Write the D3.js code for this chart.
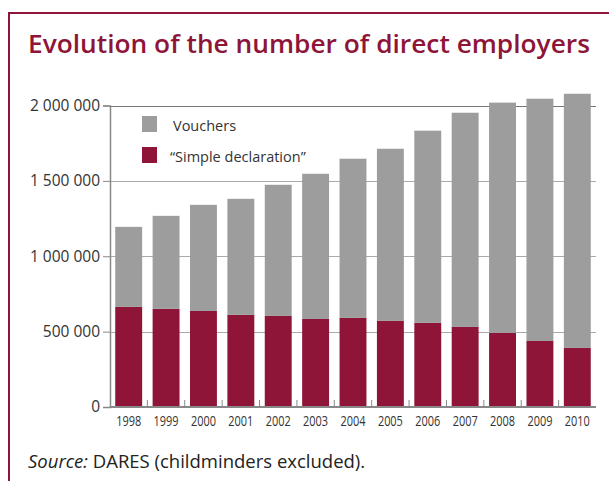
<!DOCTYPE html>
<html>
<head>
<meta charset="utf-8">
<script src="https://cdn.jsdelivr.net/npm/d3@7"></script>
<style>
  body { margin: 0; background: #fff; }
  svg text { font-family: "Open Sans", "Noto Sans", sans-serif; }
</style>
</head>
<body>
<script>
const years = ["1998","1999","2000","2001","2002","2003","2004","2005","2006","2007","2008","2009","2010"];
const simple = [664000, 651000, 637000, 611000, 604000, 584000, 591000, 571000, 558000, 531000, 491000, 438000, 392000];
const vouchers = [531000, 617000, 704000, 770000, 870000, 963000, 1056000, 1142000, 1275000, 1421000, 1528000, 1607000, 1686000];
const yTicks = [0, 500000, 1000000, 1500000, 2000000];
const seriesNames = ["Vouchers", "\u201cSimple declaration\u201d"];

const width = 609, height = 481;
const red = "#8e1538", grey = "#9c9d9c";
const margin = { top: 105, right: 13, bottom: 74, left: 110 };

const svg = d3.select("body").append("svg")
  .attr("width", width)
  .attr("height", height);

// frame
svg.append("line").attr("x1", 9).attr("x2", width).attr("y1", 13).attr("y2", 13)
  .attr("stroke", red).attr("stroke-width", 2);
svg.append("line").attr("x1", 9).attr("x2", 9).attr("y1", 12).attr("y2", height)
  .attr("stroke", red).attr("stroke-width", 2);

svg.append("text")
  .attr("x", 28).attr("y", 53)
  .attr("fill", red)
  .attr("font-size", 25)
  .attr("font-weight", 600)
  .attr("textLength", 562)
  .attr("lengthAdjust", "spacingAndGlyphs")
  .text("Evolution of the number of direct employers");

const x = d3.scaleBand()
  .domain(years)
  .range([margin.left, width - margin.right])
  .paddingInner(0.28)
  .paddingOuter(0.14);

const y = d3.scaleLinear()
  .domain([0, 2000000])
  .range([height - margin.bottom, margin.top + 0.5]);

// gridlines
svg.append("g").selectAll("line")
  .data(yTicks.slice(1))
  .join("line")
  .attr("x1", margin.left).attr("x2", width - margin.right)
  .attr("y1", d => Math.round(y(d)) + 0.5).attr("y2", d => Math.round(y(d)) + 0.5)
  .attr("stroke", (d, i) => i === 3 ? "#777" : "#aaa")
  .attr("stroke-width", 1.2);

const data = years.map((yr, i) => ({ year: yr, simple: simple[i], vouchers: vouchers[i] }));
const stacked = d3.stack().keys(["simple", "vouchers"])(data);
const colors = { simple: red, vouchers: grey };

svg.append("g").selectAll("g")
  .data(stacked)
  .join("g")
  .attr("fill", d => colors[d.key])
  .selectAll("rect")
  .data(d => d)
  .join("rect")
  .attr("x", d => x(d.data.year))
  .attr("width", x.bandwidth())
  .attr("y", d => y(d[1]))
  .attr("height", d => y(d[0]) - y(d[1]));

// y axis
const yAxis = svg.append("g")
  .attr("transform", `translate(${margin.left},0)`)
  .call(d3.axisLeft(y).tickValues(yTicks).tickSize(7).tickPadding(3)
    .tickFormat(d => d3.format(",")(d).replace(/,/g, " ")));
yAxis.select(".domain").attr("stroke", "#888").attr("stroke-width", 1.5);
yAxis.selectAll(".tick line").attr("stroke", "#888");
yAxis.selectAll("text").attr("font-size", 15.5).attr("fill", "#333");

// x axis
const y0 = y(0);
const xg = svg.append("g");
xg.append("line")
  .attr("x1", margin.left).attr("x2", width - margin.right)
  .attr("y1", y0).attr("y2", y0)
  .attr("stroke", "#888").attr("stroke-width", 2);
xg.selectAll("line.tk")
  .data(years.slice(1))
  .join("line")
  .attr("class", "tk")
  .attr("x1", d => x(d) - x.step() * x.paddingInner() / 2)
  .attr("x2", d => x(d) - x.step() * x.paddingInner() / 2)
  .attr("y1", y0).attr("y2", y0 - 7)
  .attr("stroke", "#888");
xg.selectAll("text")
  .data(years)
  .join("text")
  .attr("x", d => x(d) + x.bandwidth() / 2)
  .attr("y", y0 + 19)
  .attr("text-anchor", "middle")
  .attr("font-size", 14.5)
  .attr("fill", "#333")
  .attr("textLength", 25)
  .attr("lengthAdjust", "spacingAndGlyphs")
  .text(d => d);

// legend
const legend = svg.append("g").selectAll("g")
  .data(seriesNames)
  .join("g")
  .attr("transform", (d, i) => `translate(142,${116 + i * 31})`);
legend.append("rect")
  .attr("width", 15).attr("height", 16)
  .attr("fill", (d, i) => i === 0 ? grey : red);
legend.append("text")
  .attr("x", (d, i) => i === 0 ? 31 : 28)
  .attr("y", 14.5)
  .attr("font-size", 14.5)
  .attr("fill", "#333")
  .text(d => d);

// source
const src = svg.append("text")
  .attr("x", 28).attr("y", 468)
  .attr("font-size", 18.5)
  .attr("fill", "#222");
src.append("tspan").attr("font-style", "italic").text("Source:");
src.append("tspan").text(" DARES (childminders excluded).");
</script>
</body>
</html>
